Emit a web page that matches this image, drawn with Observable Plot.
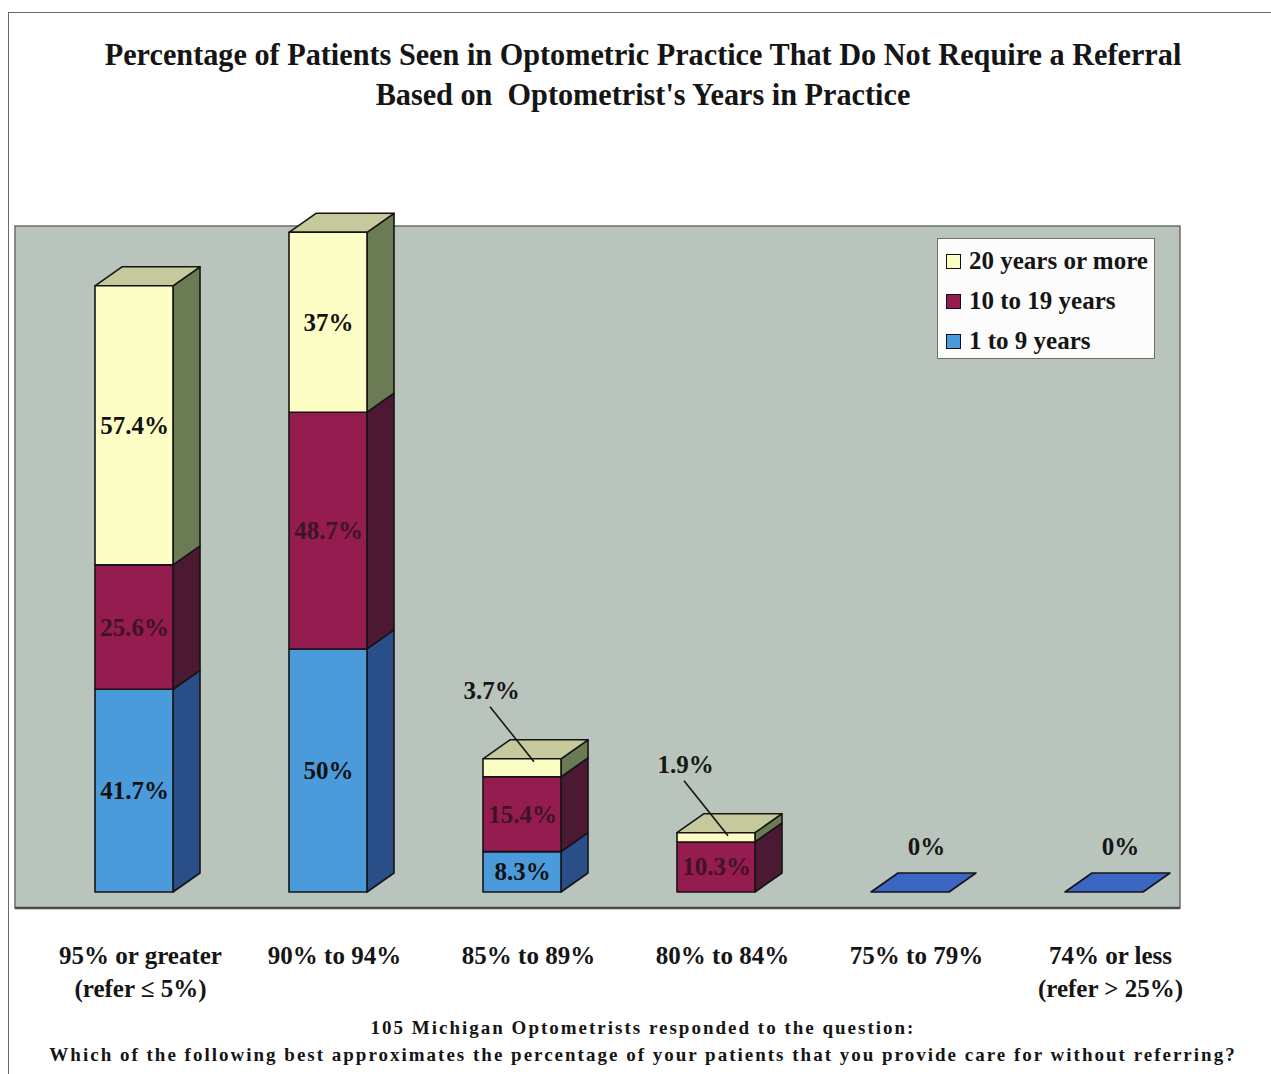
<!DOCTYPE html>
<html>
<head>
<meta charset="utf-8">
<script src="https://cdn.jsdelivr.net/npm/d3@7"></script>
<script src="https://cdn.jsdelivr.net/npm/@observablehq/plot@0.6"></script>
<style>
  html, body { margin: 0; padding: 0; background: #fff; }
  #page { position: relative; width: 1271px; height: 1074px; overflow: hidden;
          font-family: "Liberation Serif", "Times New Roman", serif; color: #151515; }
  #frame { position: absolute; left: 8px; top: 12px; width: 1280px; height: 1080px;
           border-top: 1.5px solid #6a6a6a; border-left: 1.5px solid #6a6a6a; }
  #title { position: absolute; left: 0; width: 1286px; top: 34px; text-align: center;
           font-weight: bold; font-size: 32px; line-height: 40px;
           transform: scaleX(0.945); transform-origin: 643px 0; white-space: nowrap; }
  #chart { position: absolute; left: 0; top: 200px; }
  #chart svg { overflow: visible; }
  #legend { position: absolute; left: 937px; top: 238px; width: 218px; height: 121px;
            background: #fcfcfc; border: 1.5px solid #6e6e6e; box-sizing: border-box;
            padding: 2px 0 0 8px; }
  .item { display: flex; align-items: center; height: 40px; font-weight: bold; font-size: 25px; }
  .sw { width: 13px; height: 13px; border: 1.5px solid #111; margin-right: 8px; }
  #note { position: absolute; left: 0; width: 1286px; top: 1014px; text-align: center;
          font-weight: bold; font-size: 19px; line-height: 27px; letter-spacing: 2px; white-space: nowrap; }
</style>
</head>
<body>
<div id="page">
  <div id="frame"></div>
  <div id="title">Percentage of Patients Seen in Optometric Practice That Do Not Require a Referral<br>Based on&nbsp; Optometrist's Years in Practice</div>
  <div id="chart"></div>
  <div id="legend"></div>
  <div id="note">105 Michigan Optometrists responded to the question:<br>Which of the following best approximates the percentage of your patients that you provide care for without referring?</div>
</div>
<script>
// Share of patients cared for without referral (answer categories)
const categories = ["95% or greater", "90% to 94%", "85% to 89%", "80% to 84%", "75% to 79%", "74% or less"];
const categoryNotes = ["(refer ≤ 5%)", "", "", "", "", "(refer > 25%)"];

// Respondent groups by years in practice (stacked bottom to top)
const seriesNames = ["1 to 9 years", "10 to 19 years", "20 years or more"];

// Percent of each group choosing each answer
const years1to9   = [41.7, 50, 8.3, 0, 0, 0];
const years10to19 = [25.6, 48.7, 15.4, 10.3, 0, 0];
const years20plus = [57.4, 37, 3.7, 1.9, 0, 0];

// Face colours for each group: front, side, top, label
const palette = {
  "1 to 9 years":     {front: "#4b9bdc", side: "#2a4f88", top: "#3b66c3", text: "#121212"},
  "10 to 19 years":   {front: "#951c4f", side: "#4b1a32", top: "#6c1f41", text: "#3d1427"},
  "20 years or more": {front: "#fdfdc6", side: "#6b7c55", top: "#c6c99b", text: "#121212"}
};

// 3D depth offset of the bars (pixels)
const DX = 27, DY = -19;

// Build the stacked table
const seriesValues = [years1to9, years10to19, years20plus];
const rows = [];
categories.forEach((c, i) => {
  let base = 0;
  seriesNames.forEach((s, j) => {
    const v = seriesValues[j][i];
    rows.push({category: c, series: s, value: v, y1: base, y2: base + v});
    base += v;
  });
});
const totals = categories.map(c => d3.sum(rows.filter(d => d.category === c), d => d.value));

// Grey plot panel behind the bars
function panel(index, scales, values, dims) {
  const {width, height, marginTop, marginRight, marginBottom, marginLeft} = dims;
  const g = d3.create("svg:g");
  g.append("rect")
    .attr("x", marginLeft).attr("y", marginTop)
    .attr("width", width - marginRight - marginLeft)
    .attr("height", height - marginBottom - marginTop + 16)
    .attr("fill", "#b9c4bd").attr("stroke", "#6c6c6c").attr("stroke-width", 1.5);
  g.append("line")
    .attr("x1", marginLeft).attr("x2", width - marginRight)
    .attr("y1", height - marginBottom + 16).attr("y2", height - marginBottom + 16)
    .attr("stroke", "#4a4a4a").attr("stroke-width", 2.5);
  return g.node();
}

// Side faces of every segment and the top face of each stack
function depthFaces(index, scales) {
  const {x, y} = scales;
  const bw = x.bandwidth();
  const g = d3.create("svg:g").attr("stroke", "#141414").attr("stroke-width", 1.6).attr("stroke-linejoin", "round");
  for (const c of categories) {
    const segs = rows.filter(d => d.category === c);
    const visible = segs.filter(d => d.value > 0);
    const x0 = x(c), x1 = x0 + bw;
    for (const d of visible) {
      const ya = y(d.y1), yb = y(d.y2);
      g.append("path")
        .attr("d", `M${x1},${yb}L${x1 + DX},${yb + DY}L${x1 + DX},${ya + DY}L${x1},${ya}Z`)
        .attr("fill", palette[d.series].side);
    }
    const topSeg = visible.length ? visible[visible.length - 1] : segs[0];
    const yt = y(topSeg.y2);
    g.append("path")
      .attr("d", `M${x0},${yt}L${x0 + DX},${yt + DY}L${x1 + DX},${yt + DY}L${x1},${yt}Z`)
      .attr("fill", palette[topSeg.series].top);
  }
  return g.node();
}

// Leader lines from small-value labels to their thin segments
function leaders(index, scales) {
  const {x, y} = scales;
  const bw = x.bandwidth();
  const g = d3.create("svg:g").attr("stroke", "#151515").attr("stroke-width", 1.6);
  for (const d of rows.filter(d => d.value > 0 && d.value < 5)) {
    const cx = x(d.category) + bw / 2, yt = y(d.y2);
    g.append("line")
      .attr("x1", cx - 32).attr("y1", yt - 52)
      .attr("x2", cx + 12).attr("y2", yt + 3);
  }
  return g.node();
}

const fmt = v => `${v}%`;
const labelFont = {fontSize: 25, fontWeight: "bold"};

const chart = Plot.plot({
  width: 1271,
  height: 810,
  marginLeft: 15,
  marginRight: 91,
  marginTop: 26,
  marginBottom: 118,
  style: {fontFamily: "'Liberation Serif', 'Times New Roman', serif", background: "transparent", overflow: "visible"},
  x: {type: "band", domain: categories, paddingInner: 0.6, paddingOuter: 0.3, align: 0.68},
  y: {domain: [0, 137], axis: null},
  color: {domain: seriesNames, range: seriesNames.map(s => palette[s].front)},
  marks: [
    panel,
    depthFaces,
    Plot.barY(rows.filter(d => d.value > 0), {
      x: "category", y1: "y1", y2: "y2", fill: "series",
      stroke: "#141414", strokeWidth: 1.6, strokeLinejoin: "round"
    }),
    leaders,
    // values inside the segments
    Plot.text(rows.filter(d => d.value >= 5), {
      x: "category", y: d => (d.y1 + d.y2) / 2, text: d => fmt(d.value),
      fill: d => palette[d.series].text, ...labelFont
    }),
    // small values placed above with a leader line
    Plot.text(rows.filter(d => d.value > 0 && d.value < 5), {
      x: "category", y: "y2", text: d => fmt(d.value),
      dx: -31, dy: -68, fill: "#161616", ...labelFont
    }),
    // empty answer categories
    Plot.text(categories.filter((c, i) => totals[i] === 0), {
      x: d => d, y: 0, text: () => "0%", dx: 16, dy: -46, fill: "#161616", ...labelFont
    }),
    Plot.axisX({
      tickSize: 0, tickPadding: 48, dx: 6, fontSize: 25, fontWeight: "bold",
      fill: "#151515", lineHeight: 1.32, label: null,
      tickFormat: d => {
        const note = categoryNotes[categories.indexOf(d)];
        return note ? `${d}\n${note}` : d;
      }
    })
  ]
});
document.getElementById("chart").append(chart);

// Legend, listed top series first
const legend = d3.select("#legend");
for (const s of seriesNames.slice().reverse()) {
  const item = legend.append("div").attr("class", "item");
  item.append("div").attr("class", "sw").style("background", palette[s].front);
  item.append("span").text(s);
}
</script>
</body>
</html>
